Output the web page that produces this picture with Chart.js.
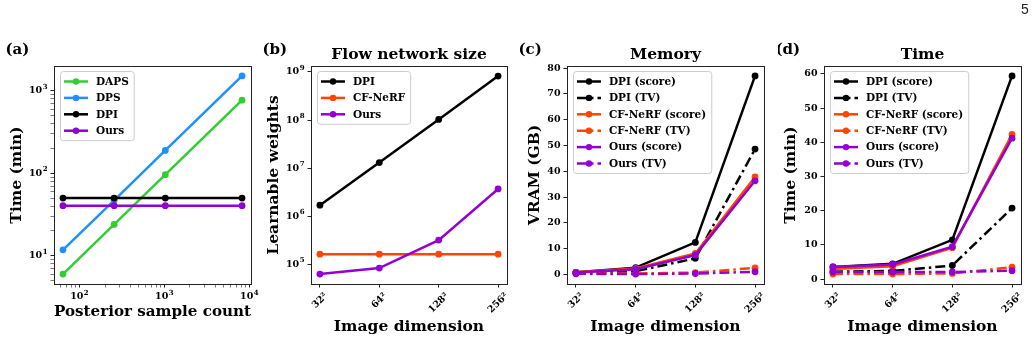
<!DOCTYPE html>
<html>
<head>
<meta charset="utf-8">
<script src="https://cdn.jsdelivr.net/npm/chart.js@4/dist/chart.umd.min.js"></script>
<style>
  body { margin: 0; background: #fff; width: 1036px; height: 341px; position: relative; overflow: hidden; }
  canvas { position: absolute; top: 0; }
  #page { position: absolute; left: 1021px; top: 1px; font: 14px 'Liberation Sans'; color: #222; }
</style>
</head>
<body>
<canvas id="ca" width="262" height="341" style="left:0px"></canvas>
<canvas id="cb" width="258" height="341" style="left:262px"></canvas>
<canvas id="cc" width="258" height="341" style="left:520px"></canvas>
<canvas id="cd" width="258" height="341" style="left:778px"></canvas>
<div id="page">5</div>
<script>
// (a) posterior sampling time vs number of samples
const sampleCounts = [64, 256, 1024, 8192];
const dapsTime = [6, 24, 96, 768];
const dpsTime = [11.8, 47, 189, 1512];
const dpiTime = [50, 50, 50, 50];
const oursTime = [40.5, 40.5, 40.5, 40.5];

// (b)-(d) share the image dimension categories
const imageDims = ['32²', '64²', '128²', '256²'];

// (b) learnable weights
const dpiWeights = [1.7e6, 1.31e7, 1.03e8, 8.2e8];
const cfWeights = [1.63e5, 1.63e5, 1.63e5, 1.63e5];
const oursWeights = [6.3e4, 8.4e4, 3.2e5, 3.7e6];

// (c) memory, GB
const memDpiScore = [0.8, 2.6, 12.4, 77.0];
const memDpiTV = [0.5, 1.2, 6.2, 48.6];
const memCfScore = [0.8, 2.3, 8.1, 37.8];
const memCfTV = [0.4, 0.3, 0.7, 2.5];
const memOursScore = [0.7, 2.0, 7.5, 36.3];
const memOursTV = [0.2, 0.1, 0.3, 1.0];
const memTicks = [0, 10, 20, 30, 40, 50, 60, 70, 80];

// (d) time, min
const timeDpiScore = [3.6, 4.5, 11.5, 59.4];
const timeDpiTV = [2.2, 2.4, 4.0, 20.8];
const timeCfScore = [3.0, 3.8, 9.2, 42.3];
const timeCfTV = [1.5, 1.5, 1.7, 3.5];
const timeOursScore = [3.6, 4.3, 9.5, 41.2];
const timeOursTV = [2.1, 2.1, 2.1, 2.5];
const timeTicks = [0, 10, 20, 30, 40, 50, 60];

const GREEN = '#32cd32', BLUE = '#1e90ff', BLACK = '#000000', VIOLET = '#9400d3', ORANGE = '#ff4500';
const FONT = "'DejaVu Serif'";
const DASHDOT = [10, 4, 2.5, 4];

function logTicks(min, max, minors) {
  const out = [];
  for (let e = Math.floor(Math.log10(min)); e <= Math.ceil(Math.log10(max)); e++) {
    const subs = minors ? [1, 2, 3, 4, 5, 6, 7, 8, 9] : [1];
    subs.forEach(k => {
      const v = k * Math.pow(10, e);
      if (v >= min && v <= max) out.push({ value: v, major: k === 1 });
    });
  }
  return out;
}

function series(label, xs, ys, color, dashed) {
  return {
    label,
    data: xs.map((x, i) => ({ x, y: ys[i] })),
    borderColor: color,
    backgroundColor: color,
    borderWidth: 2.5,
    borderDash: dashed ? DASHDOT : [],
    pointRadius: 3.4,
    pointBorderWidth: 0,
    pointBackgroundColor: color,
    tension: 0
  };
}

// later series on top, like matplotlib
function stacked(list) {
  list.forEach((d, i) => { d.order = list.length - i; });
  return list;
}

const tickFont = { family: FONT, weight: 'bold', size: 9.5 };
const titleFont = { family: FONT, weight: 'bold', size: 15.5 };

function gridOpts(minorWidth) {
  return {
    display: true,
    drawOnChartArea: false,
    drawTicks: true,
    tickLength: 3.5,
    tickColor: '#222',
    tickWidth: ctx => (ctx.tick && ctx.tick.major === false ? minorWidth : 1)
  };
}

// "10" with a raised exponent, like matplotlib's mathtext
function drawPow10(ctx, value, x, y, align) {
  const e = String(Math.round(Math.log10(value)));
  ctx.font = `bold 9.5px ${FONT}`;
  const wb = ctx.measureText('10').width;
  ctx.font = `bold 7px ${FONT}`;
  const we = ctx.measureText(e).width;
  const total = wb + we + 0.5;
  let x0 = align === 'right' ? x - total : x - total / 2;
  ctx.textAlign = 'left';
  ctx.textBaseline = 'middle';
  ctx.font = `bold 9.5px ${FONT}`;
  ctx.fillText('10', x0, y);
  ctx.font = `bold 7px ${FONT}`;
  ctx.fillText(e, x0 + wb + 0.5, y - 4);
}

const decor = {
  id: 'decor',
  afterDatasetsDraw(chart, args, o) {
    const { ctx, chartArea: a } = chart;
    ctx.save();
    ctx.strokeStyle = '#222';
    ctx.lineWidth = 1;
    ctx.strokeRect(Math.round(a.left) + 0.5, Math.round(a.top) + 0.5, Math.round(a.width), Math.round(a.height));

    // legend box in the top left corner
    const items = chart.data.datasets;
    ctx.font = `bold 10.5px ${FONT}`;
    const tw = Math.max(...items.map(d => ctx.measureText(d.label).width));
    const bx = Math.round(a.left) + 6, by = Math.round(a.top) + 5;
    const rowH = 16.4, bw = 36 + tw + 5, bh = 20 + (items.length - 1) * rowH;
    ctx.beginPath();
    ctx.roundRect(bx + 0.5, by + 0.5, bw, bh, 3);
    ctx.fillStyle = 'rgba(255,255,255,0.8)';
    ctx.fill();
    ctx.strokeStyle = '#cccccc';
    ctx.stroke();
    items.forEach((d, i) => {
      const y = by + 10.5 + i * rowH;
      ctx.strokeStyle = d.borderColor;
      ctx.lineWidth = d.borderWidth;
      ctx.setLineDash(d.borderDash);
      ctx.beginPath();
      ctx.moveTo(bx + 4, y);
      ctx.lineTo(bx + 28, y);
      ctx.stroke();
      ctx.setLineDash([]);
      ctx.fillStyle = d.borderColor;
      ctx.beginPath();
      ctx.arc(bx + 16, y, 3.2, 0, Math.PI * 2);
      ctx.fill();
      ctx.fillStyle = '#000';
      ctx.textAlign = 'left';
      ctx.textBaseline = 'middle';
      ctx.fillText(d.label, bx + 36, y + 0.5);
    });
    ctx.restore();
  },
  afterDraw(chart, args, o) {
    const { ctx, chartArea: a } = chart;
    ctx.save();
    ctx.fillStyle = '#000';
    ctx.textBaseline = 'middle';
    ctx.textAlign = 'left';
    ctx.font = `bold 15px ${FONT}`;
    ctx.fillText(o.panel, a.left - 48.5, 50);
    if (o.title) {
      ctx.textAlign = 'center';
      ctx.font = `bold 15.5px ${FONT}`;
      ctx.fillText(o.title, (a.left + a.right) / 2, 55);
    }
    if (o.rotLabels) {
      const xs = chart.scales.x;
      ctx.font = `bold 9.5px ${FONT}`;
      xs.ticks.forEach(t => {
        const lab = o.rotLabels[t.value];
        const w = ctx.measureText(lab).width, h = 10;
        const half = (w + h) * Math.SQRT1_2 / 2;
        ctx.save();
        ctx.translate(xs.getPixelForValue(t.value), a.bottom + 7 + half);
        ctx.rotate(-Math.PI / 4);
        ctx.textAlign = 'center';
        ctx.fillText(lab, 0, 0);
        ctx.restore();
      });
    }
    if (o.logX) {
      const xs = chart.scales.x;
      xs.ticks.filter(t => t.major).forEach(t => {
        drawPow10(ctx, t.value, xs.getPixelForValue(t.value), a.bottom + 13, 'center');
      });
    }
    if (o.logY) {
      const ys = chart.scales.y;
      ys.ticks.filter(t => t.major).forEach(t => {
        drawPow10(ctx, t.value, a.left - 6.5, ys.getPixelForValue(t.value), 'right');
      });
    }
    ctx.restore();
  }
};
Chart.register(decor);

function baseOptions(padRight, panel, title, rotLabels) {
  return {
    responsive: false,
    animation: false,
    events: [],
    layout: { padding: { left: 0, right: padRight, top: 66, bottom: 0 } },
    plugins: {
      legend: { display: false },
      tooltip: { enabled: false },
      decor: { panel, title, rotLabels }
    }
  };
}

function categoryX(xTitle) {
  return {
    type: 'linear',
    min: -0.15,
    max: 3.15,
    afterBuildTicks: s => { s.ticks = imageDims.map((_, i) => ({ value: i })); },
    ticks: { display: false },
    grid: gridOpts(1),
    border: { display: false },
    title: { display: true, text: xTitle, font: titleFont, color: '#000', padding: { top: 0, bottom: 5 } },
    afterFit: s => { s.height = 57; }
  };
}

function linearY(min, max, tickVals, width, titleText, titlePad) {
  return {
    type: 'linear',
    min, max,
    afterBuildTicks: s => { s.ticks = tickVals.map(v => ({ value: v })); },
    ticks: { font: tickFont, color: '#000', padding: 3, callback: v => String(v) },
    grid: gridOpts(1),
    border: { display: false },
    title: { display: true, text: titleText, font: titleFont, color: '#000', padding: { top: titlePad, bottom: 0 } },
    afterFit: s => { s.width = width; }
  };
}

const catX = imageDims.map((_, i) => i);

// (a)
const optA = baseOptions(11, '(a)', '', null);
optA.plugins.decor.logX = true;
optA.plugins.decor.logY = true;
optA.scales = {
  x: {
    type: 'logarithmic',
    min: 50.2, max: 10443,
    afterBuildTicks: s => { s.ticks = logTicks(50.2, 10443, true); },
    ticks: { display: false, autoSkip: false },
    grid: gridOpts(0.6),
    border: { display: false },
    title: { display: true, text: 'Posterior sample count', font: titleFont, color: '#000', padding: { top: 0, bottom: 20 } },
    afterFit: s => { s.height = 57; }
  },
  y: {
    type: 'logarithmic',
    min: 4.55, max: 1994,
    afterBuildTicks: s => { s.ticks = logTicks(4.55, 1994, true); },
    ticks: { display: false, autoSkip: false },
    grid: gridOpts(0.6),
    border: { display: false },
    title: { display: true, text: 'Time (min)', font: titleFont, color: '#000', padding: { top: 8, bottom: 0 } },
    afterFit: s => { s.width = 54; }
  }
};
new Chart('ca', {
  type: 'line',
  data: {
    datasets: stacked([
      series('DAPS', sampleCounts, dapsTime, GREEN),
      series('DPS', sampleCounts, dpsTime, BLUE),
      series('DPI', sampleCounts, dpiTime, BLACK),
      series('Ours', sampleCounts, oursTime, VIOLET)
    ])
  },
  options: optA
});

// (b)
const optB = baseOptions(13, '(b)', 'Flow network size', imageDims);
optB.plugins.decor.logY = true;
optB.scales = {
  x: categoryX('Image dimension'),
  y: {
    type: 'logarithmic',
    min: 3.92e4, max: 1.33e9,
    afterBuildTicks: s => { s.ticks = logTicks(3.92e4, 1.33e9, false); },
    ticks: { display: false, autoSkip: false },
    grid: gridOpts(1),
    border: { display: false },
    title: { display: true, text: 'Learnable weights', font: titleFont, color: '#000', padding: { top: 2.5, bottom: 0 } },
    afterFit: s => { s.width = 49; }
  }
};
new Chart('cb', {
  type: 'line',
  data: {
    datasets: stacked([
      series('DPI', catX, dpiWeights, BLACK),
      series('CF-NeRF', catX, cfWeights, ORANGE),
      series('Ours', catX, oursWeights, VIOLET)
    ])
  },
  options: optB
});

// (c)
const optC = baseOptions(14, '(c)', 'Memory', imageDims);
optC.scales = {
  x: categoryX('Image dimension'),
  y: linearY(-3.75, 80.85, memTicks, 47, 'VRAM (GB)', 6)
};
new Chart('cc', {
  type: 'line',
  data: {
    datasets: stacked([
      series('DPI (score)', catX, memDpiScore, BLACK),
      series('DPI (TV)', catX, memDpiTV, BLACK, true),
      series('CF-NeRF (score)', catX, memCfScore, ORANGE),
      series('CF-NeRF (TV)', catX, memCfTV, ORANGE, true),
      series('Ours (score)', catX, memOursScore, VIOLET),
      series('Ours (TV)', catX, memOursTV, VIOLET, true)
    ])
  },
  options: optC
});

// (d)
const optD = baseOptions(15, '(d)', 'Time', imageDims);
optD.scales = {
  x: categoryX('Image dimension'),
  y: linearY(-1.4, 62.3, timeTicks, 46, 'Time (min)', 4)
};
new Chart('cd', {
  type: 'line',
  data: {
    datasets: stacked([
      series('DPI (score)', catX, timeDpiScore, BLACK),
      series('DPI (TV)', catX, timeDpiTV, BLACK, true),
      series('CF-NeRF (score)', catX, timeCfScore, ORANGE),
      series('CF-NeRF (TV)', catX, timeCfTV, ORANGE, true),
      series('Ours (score)', catX, timeOursScore, VIOLET),
      series('Ours (TV)', catX, timeOursTV, VIOLET, true)
    ])
  },
  options: optD
});
</script>
</body>
</html>
